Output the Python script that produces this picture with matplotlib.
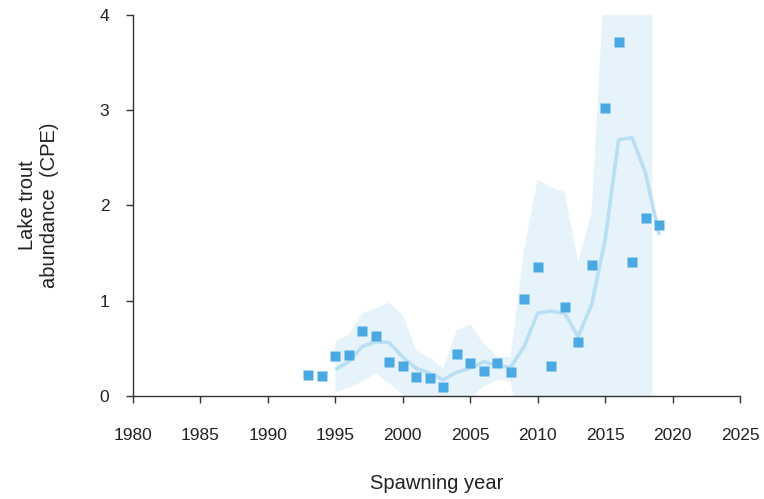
import numpy as np
import matplotlib.pyplot as plt
import matplotlib as mpl

mpl.rcParams.update({
    "font.family": ["Liberation Sans", "DejaVu Sans"],
    "font.size": 12,
    "axes.spines.top": False, "axes.spines.right": False,
})

# observed CPE by spawning year
obs_years = list(range(1993, 2020))
obs_cpe = [0.22, 0.21, 0.42, 0.43, 0.68, 0.63, 0.36, 0.31, 0.20, 0.19, 0.09,
           0.44, 0.35, 0.26, 0.35, 0.25, 1.02, 1.35, 0.32, 0.93, 0.57, 1.38,
           3.02, 3.72, 1.41, 1.87, 1.79]

# fitted trend
fit_years = list(range(1995, 2020))
fit_cpe = [0.28, 0.36, 0.52, 0.57, 0.56, 0.41, 0.29, 0.24, 0.17, 0.25, 0.29,
           0.36, 0.32, 0.30, 0.52, 0.87, 0.89, 0.87, 0.62, 0.96, 1.64, 2.69,
           2.71, 2.34, 1.69]

# confidence band (clipped by the axis limits)
band_years = [1995, 1996, 1997, 1998, 1999, 2000, 2001, 2002, 2003, 2004, 2005,
              2006, 2007, 2008, 2009, 2010, 2011, 2012, 2013, 2014, 2015, 2016,
              2017, 2018, 2018.5]
band_upper = [0.57, 0.64, 0.87, 0.92, 0.98, 0.85, 0.48, 0.40, 0.29, 0.69, 0.75,
              0.55, 0.41, 0.41, 1.55, 2.27, 2.19, 2.14, 1.40, 1.92, 4.5, 6.0,
              6.0, 6.0, 6.0]
band_lower = [0.03, 0.09, 0.15, 0.24, 0.13, 0.02, -0.15, -0.2, -0.15, -0.1, -0.02,
              0.10, 0.17, 0.15, -0.6, -0.6, -0.6, -0.6, -0.6, -0.6, -0.6, -0.6,
              -0.6, -0.6, -0.6]

fig = plt.figure(figsize=(7.64, 4.99), dpi=100)
ax = fig.add_axes([0.174, 0.2064, 0.7946, 0.7636])

ax.fill_between(band_years, band_lower, band_upper, color="#e6f3fa", lw=0)
ax.plot(fit_years, fit_cpe, color="#b8dff4", lw=2.6, solid_capstyle="butt")
ax.plot(obs_years, obs_cpe, ls="none", marker="s", ms=7.5, color="#4aa9e3",
        mec="none")

ax.set_xlim(1980, 2025)
ax.set_ylim(0, 4)
ax.set_xticks(range(1980, 2026, 5))
ax.set_yticks(range(0, 5))
for s in ["left", "bottom"]:
    ax.spines[s].set_color("#333333")
    ax.spines[s].set_linewidth(1.0)
ax.tick_params(direction="out", length=5, width=1.0, color="#333333",
               labelcolor="#222222", labelsize=12.5)
ax.tick_params(axis="x", pad=18)
ax.tick_params(axis="y", pad=12)
ax.set_xlabel("Spawning year", fontsize=14.5, color="#222222", labelpad=22)
ax.set_ylabel("Lake trout\nabundance  (CPE)", fontsize=14.5, color="#222222",
              labelpad=29, linespacing=1.2)

fig.savefig("out.png", dpi=100)
